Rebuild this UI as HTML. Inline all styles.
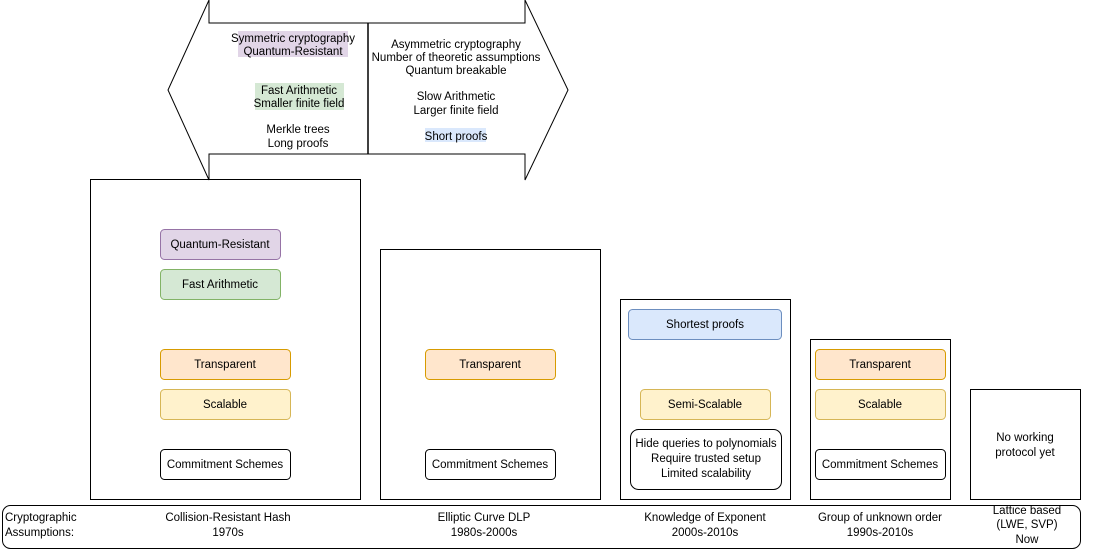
<!DOCTYPE html>
<html><head><style>body{margin:0;background:#fff}svg{display:block}text{font-family:"Liberation Sans",Arial,sans-serif;font-size:11.5px;fill:#000}</style></head>
<body>
<svg width="1106" height="550" viewBox="0 0 1106 550">
<g fill="none" stroke="#000" stroke-width="1">
<path d="M368,23 L209,23 L209,0 L168,90 L209,180 L209,154 L368,154"/>
<path d="M368,23 L525,23 L525,0 L568,90 L525,180 L525,154 L368,154"/>
<path d="M368,23 L368,154" stroke-width="1.5"/>
<rect x="90.5" y="179.5" width="270" height="320"/>
<rect x="380.5" y="249.5" width="220" height="250"/>
<rect x="620.5" y="299.5" width="170" height="200"/>
<rect x="810.5" y="339.5" width="140" height="160"/>
<rect x="970.5" y="389.5" width="110" height="110"/>
<rect x="2.5" y="505.5" width="1078" height="43" rx="8"/>
</g>
<rect x="238" y="31" width="110" height="26" fill="#e1d5e7"/>
<rect x="255" y="83" width="89" height="27" fill="#d5e8d4"/>
<rect x="425" y="128" width="61" height="14" fill="#dae8fc"/>
<g text-anchor="middle">
<text x="293" y="42">Symmetric cryptography</text><text x="293" y="55">Quantum-Resistant</text>
<text x="299" y="94">Fast Arithmetic</text><text x="299" y="107">Smaller finite field</text>
<text x="298" y="133">Merkle trees</text><text x="298" y="147">Long proofs</text>
<text x="456" y="48">Asymmetric cryptography</text><text x="456" y="61">Number of theoretic assumptions</text><text x="456" y="74">Quantum breakable</text>
<text x="456" y="100">Slow Arithmetic</text><text x="456" y="114">Larger finite field</text>
<text x="456" y="140">Short proofs</text>
</g>
<g stroke-width="1">
<rect x="160.5" y="229.5" width="120" height="30" rx="4" fill="#e1d5e7" stroke="#9673a6"/>
<rect x="160.5" y="269.5" width="120" height="30" rx="4" fill="#d5e8d4" stroke="#82b366"/>
<rect x="160.5" y="349.5" width="130" height="30" rx="4" fill="#ffe6cc" stroke="#d79b00"/>
<rect x="160.5" y="389.5" width="130" height="30" rx="4" fill="#fff2cc" stroke="#d6b656"/>
<rect x="160.5" y="449.5" width="130" height="30" rx="4" fill="#fff" stroke="#000"/>
<rect x="425.5" y="349.5" width="130" height="30" rx="4" fill="#ffe6cc" stroke="#d79b00"/>
<rect x="425.5" y="449.5" width="130" height="30" rx="4" fill="#fff" stroke="#000"/>
<rect x="628.5" y="309.5" width="153" height="30" rx="4" fill="#dae8fc" stroke="#6c8ebf"/>
<rect x="640.5" y="389.5" width="130" height="30" rx="4" fill="#fff2cc" stroke="#d6b656"/>
<rect x="630.5" y="429.5" width="151" height="60" rx="8" fill="#fff" stroke="#000"/>
<rect x="815.5" y="349.5" width="130" height="30" rx="4" fill="#ffe6cc" stroke="#d79b00"/>
<rect x="815.5" y="389.5" width="130" height="30" rx="4" fill="#fff2cc" stroke="#d6b656"/>
<rect x="815.5" y="449.5" width="130" height="30" rx="4" fill="#fff" stroke="#000"/>
</g>
<g text-anchor="middle">
<text x="220" y="248">Quantum-Resistant</text>
<text x="220" y="288">Fast Arithmetic</text>
<text x="225" y="368">Transparent</text>
<text x="225" y="408">Scalable</text>
<text x="225" y="468">Commitment Schemes</text>
<text x="490" y="368">Transparent</text>
<text x="490" y="468">Commitment Schemes</text>
<text x="705" y="328">Shortest proofs</text>
<text x="705" y="408">Semi-Scalable</text>
<text x="706" y="447">Hide queries to polynomials</text>
<text x="706" y="462">Require trusted setup</text>
<text x="706" y="477">Limited scalability</text>
<text x="880" y="368">Transparent</text>
<text x="880" y="408">Scalable</text>
<text x="880" y="468">Commitment Schemes</text>
<text x="1025" y="441">No working</text><text x="1025" y="456">protocol yet</text>
<text x="228" y="521">Collision-Resistant Hash</text><text x="228" y="536">1970s</text>
<text x="484" y="521">Elliptic Curve DLP</text><text x="484" y="536">1980s-2000s</text>
<text x="705" y="521">Knowledge of Exponent</text><text x="705" y="536">2000s-2010s</text>
<text x="880" y="521">Group of unknown order</text><text x="880" y="536">1990s-2010s</text>
<text x="1027" y="514">Lattice based</text><text x="1027" y="528">(LWE, SVP)</text><text x="1027" y="543">Now</text>
</g>
<text x="5" y="521">Cryptographic</text><text x="5" y="536">Assumptions:</text>
</svg>
</body></html>
